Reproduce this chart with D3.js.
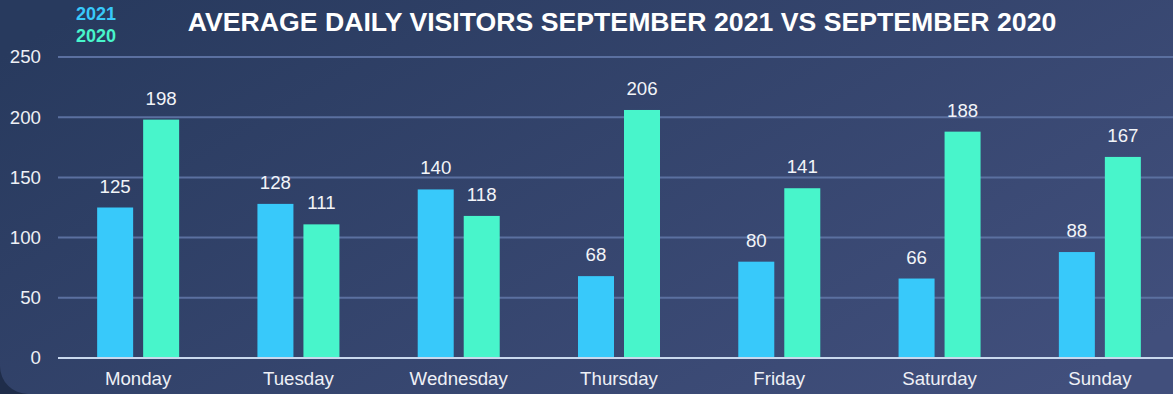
<!DOCTYPE html>
<html>
<head>
<meta charset="utf-8">
<script src="https://cdn.jsdelivr.net/npm/d3@7"></script>
<style>
  html, body { margin: 0; padding: 0; background: #1f2d4a; }
  svg { display: block; font-family: "Liberation Sans", Arial, sans-serif; }
</style>
</head>
<body>
<svg id="chart" width="1173" height="394"></svg>
<script>
// Average daily visitors per weekday
const days = ["Monday", "Tuesday", "Wednesday", "Thursday", "Friday", "Saturday", "Sunday"];
const visitors2021 = [125, 128, 140, 68, 80, 66, 88];
const visitors2020 = [198, 111, 118, 206, 141, 188, 167];
const seriesNames = ["2021", "2020"];
const yTicks = [0, 50, 100, 150, 200, 250];
const titleText = "AVERAGE DAILY VISITORS SEPTEMBER 2021 VS SEPTEMBER 2020";

const W = 1173, H = 394;
// the plot area runs slightly past the right edge of the canvas
const margin = { left: 58, right: -7, top: 57, bottom: 36 };
const colors = { "2021": "#38c9fa", "2020": "#48f5cb" };
const labelSize = 18.67;

const svg = d3.select("#chart");

// Panel background
const defs = svg.append("defs");
const grad = defs.append("linearGradient")
  .attr("id", "bg").attr("x1", "0%").attr("y1", "20%").attr("x2", "100%").attr("y2", "80%");
grad.append("stop").attr("offset", "0%").attr("stop-color", "#283a5e");
grad.append("stop").attr("offset", "100%").attr("stop-color", "#414f7c");
svg.append("rect").attr("x", 0).attr("y", -30).attr("width", W + 30).attr("height", H + 30)
  .attr("rx", 28).attr("fill", "url(#bg)");

const x0 = d3.scaleBand().domain(days).range([margin.left, W - margin.right]).paddingInner(0).paddingOuter(0);
const y = d3.scaleLinear().domain([0, 250]).range([H - margin.bottom, margin.top]);

// Gridlines
svg.append("g").selectAll("line").data(yTicks.filter(t => t > 0)).join("line")
  .attr("x1", margin.left).attr("x2", W)
  .attr("y1", d => y(d)).attr("y2", d => y(d))
  .attr("stroke", "#5b70a0").attr("stroke-width", 2);

// Y axis labels
const yAxis = d3.axisLeft(y).tickValues(yTicks).tickSize(0).tickPadding(17);
const yg = svg.append("g").attr("transform", `translate(${margin.left},0)`).call(yAxis);
yg.select(".domain").remove();
yg.selectAll("text").attr("fill", "#eef0f6").attr("font-size", labelSize)
  .attr("font-family", "Liberation Sans, Arial, sans-serif");

// Bars
const barW = 36, gap = 10;
const series = [
  { name: "2021", values: visitors2021, offset: -(gap / 2 + barW) },
  { name: "2020", values: visitors2020, offset: gap / 2 }
];
series.forEach(s => {
  const g = svg.append("g");
  const cx = (d, i) => x0(days[i]) + x0.bandwidth() / 2;
  g.selectAll("rect").data(s.values).join("rect")
    .attr("x", (d, i) => cx(d, i) + s.offset)
    .attr("y", d => y(d))
    .attr("width", barW)
    .attr("height", d => y(0) - y(d))
    .attr("fill", colors[s.name]);
  g.selectAll("text").data(s.values).join("text")
    .attr("x", (d, i) => cx(d, i) + s.offset + barW / 2)
    .attr("y", d => y(d) - 15)
    .attr("text-anchor", "middle")
    .attr("fill", "#f2f4f8").attr("font-size", labelSize)
    .text(d => d);
});

// Zero baseline
svg.append("line").attr("x1", margin.left).attr("x2", W)
  .attr("y1", y(0)).attr("y2", y(0))
  .attr("stroke", "#c9d9ee").attr("stroke-width", 2);

// X axis labels
const xAxis = d3.axisBottom(x0).tickSize(0).tickPadding(14);
const xg = svg.append("g").attr("transform", `translate(0,${y(0)})`).call(xAxis);
xg.select(".domain").remove();
xg.selectAll("text").attr("fill", "#eef0f6").attr("font-size", labelSize)
  .attr("font-family", "Liberation Sans, Arial, sans-serif");

// Title
svg.append("text").attr("x", 622).attr("y", 31).attr("text-anchor", "middle")
  .attr("fill", "#ffffff").attr("font-size", 26.67).attr("font-weight", "bold")
  .text(titleText);

// Legend
svg.append("g").selectAll("text").data(seriesNames).join("text")
  .attr("x", 76).attr("y", (d, i) => 20 + i * 22)
  .attr("fill", d => colors[d]).attr("font-size", 18).attr("font-weight", "bold")
  .text(d => d);
</script>
</body>
</html>
